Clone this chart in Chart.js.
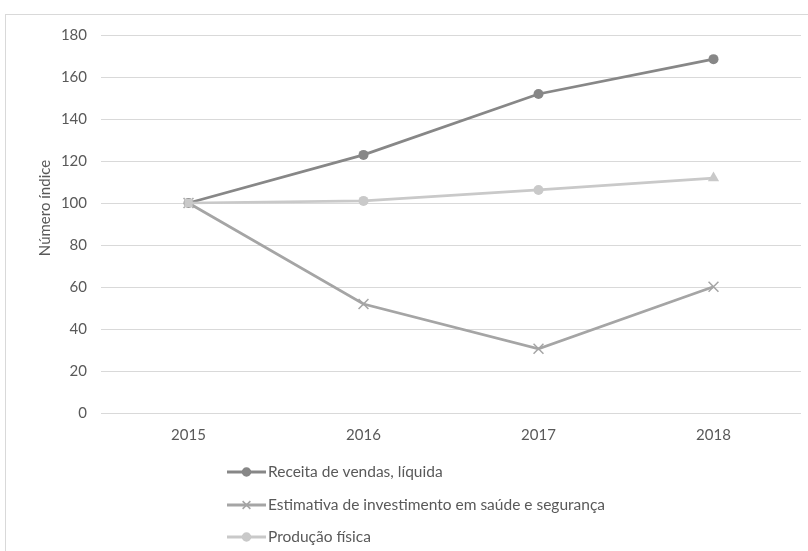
<!DOCTYPE html>
<html lang="pt">
<head>
<meta charset="utf-8">
<title>Número índice</title>
<script src="https://cdn.jsdelivr.net/npm/chart.js@4/dist/chart.umd.min.js"></script>
<style>
  html, body { margin: 0; padding: 0; background: #fff; }
  #wrap { position: relative; width: 808px; height: 551px; overflow: hidden; }
  #frame {
    position: absolute; left: 5px; top: 14px; width: 820px; height: 560px;
    border-left: 1px solid #d9d9d9; border-top: 1px solid #d9d9d9;
  }
  #chart { position: absolute; left: 0; top: 0; }
</style>
</head>
<body>
<div id="wrap">
  <div id="frame"></div>
  <canvas id="chart" width="808" height="551"></canvas>
</div>
<script>
// chart data
const years = ["2015", "2016", "2017", "2018"];
const receitaVendas = [100, 122.9, 151.9, 168.5];
const investimentoSaude = [100, 51.9, 30.6, 60.1];
const producaoFisica = [100, 101, 106.2, 111.9];
const yTicks = [0, 20, 40, 60, 80, 100, 120, 140, 160, 180];
const yTitle = "Número índice";

const FONT = "Lato, 'Open Sans', sans-serif";
const TEXT = "#595959";
const GRID = "#d9d9d9";

// legend stacked vertically under the plot, and the axis title a bit above centre,
// the way the Excel original places them
const excelBits = {
  id: "excelBits",
  afterDraw(chart) {
    const ctx = chart.ctx;
    const rows = [472, 505, 537];
    ctx.save();
    chart.data.datasets.forEach((ds, i) => {
      const y = rows[i];
      ctx.strokeStyle = ds.borderColor;
      ctx.lineWidth = 3;
      ctx.beginPath();
      ctx.moveTo(227, y);
      ctx.lineTo(266, y);
      ctx.stroke();
      ctx.fillStyle = ds.borderColor;
      ctx.lineWidth = 1.5;
      Chart.helpers.drawPoint(ctx, {
        pointStyle: ds.legendStyle,
        radius: ds.legendStyle === "crossRot" ? 5.5 : 4,
        rotation: 0,
        borderWidth: 1.5,
      }, 246.5, y);
      ctx.fillStyle = TEXT;
      ctx.font = "15.5px " + FONT;
      ctx.textBaseline = "middle";
      ctx.fillText(ds.label, 268, y);
    });

    ctx.translate(45, 208);
    ctx.rotate(-Math.PI / 2);
    ctx.fillStyle = TEXT;
    ctx.font = "15px " + FONT;
    ctx.textAlign = "center";
    ctx.textBaseline = "middle";
    ctx.fillText(yTitle, 0, 0);
    ctx.restore();
  },
};

new Chart(document.getElementById("chart"), {
  type: "line",
  data: {
    labels: years,
    datasets: [
      {
        label: "Receita de vendas, líquida",
        data: receitaVendas,
        borderColor: "#878787",
        backgroundColor: "#878787",
        borderWidth: 2.75,
        pointStyle: "circle",
        legendStyle: "circle",
        pointRadius: 5,
        pointBorderWidth: 0,
        order: 2,
      },
      {
        label: "Estimativa de investimento em saúde e segurança",
        data: investimentoSaude,
        borderColor: "#a5a5a5",
        backgroundColor: "#a5a5a5",
        borderWidth: 2.75,
        pointStyle: "crossRot",
        legendStyle: "crossRot",
        pointRadius: 7,
        pointBorderWidth: 1.5,
        order: 2,
      },
      {
        label: "Produção física",
        data: producaoFisica,
        borderColor: "#c9c9c9",
        backgroundColor: "#c9c9c9",
        borderWidth: 2.75,
        pointStyle: ["rect", "circle", "circle", "triangle"],
        legendStyle: "circle",
        pointRadius: [6, 5, 5, 6.5],
        pointBorderWidth: 0,
        order: 1,
      },
    ],
  },
  options: {
    responsive: false,
    animation: false,
    events: [],
    layout: {
      autoPadding: false,
      padding: { left: 30, right: 7, top: 35, bottom: 98 },
    },
    plugins: {
      legend: { display: false },
      tooltip: { enabled: false },
    },
    scales: {
      x: {
        offset: true,
        grid: { display: false, drawTicks: false },
        border: { display: false },
        ticks: {
          color: TEXT,
          font: { family: FONT, size: 15 },
          padding: 13,
          maxRotation: 0,
        },
        afterFit(scale) { scale.height = 40; },
      },
      y: {
        min: 0,
        max: 180,
        afterBuildTicks(scale) {
          scale.ticks = yTicks.map((v) => ({ value: v }));
        },
        grid: { color: GRID, lineWidth: 1, drawTicks: false },
        border: { display: false },
        ticks: {
          color: TEXT,
          font: { family: FONT, size: 15 },
          padding: 14,
        },
        afterFit(scale) { scale.width = 71; },
      },
    },
  },
  plugins: [excelBits],
});
</script>
</body>
</html>
